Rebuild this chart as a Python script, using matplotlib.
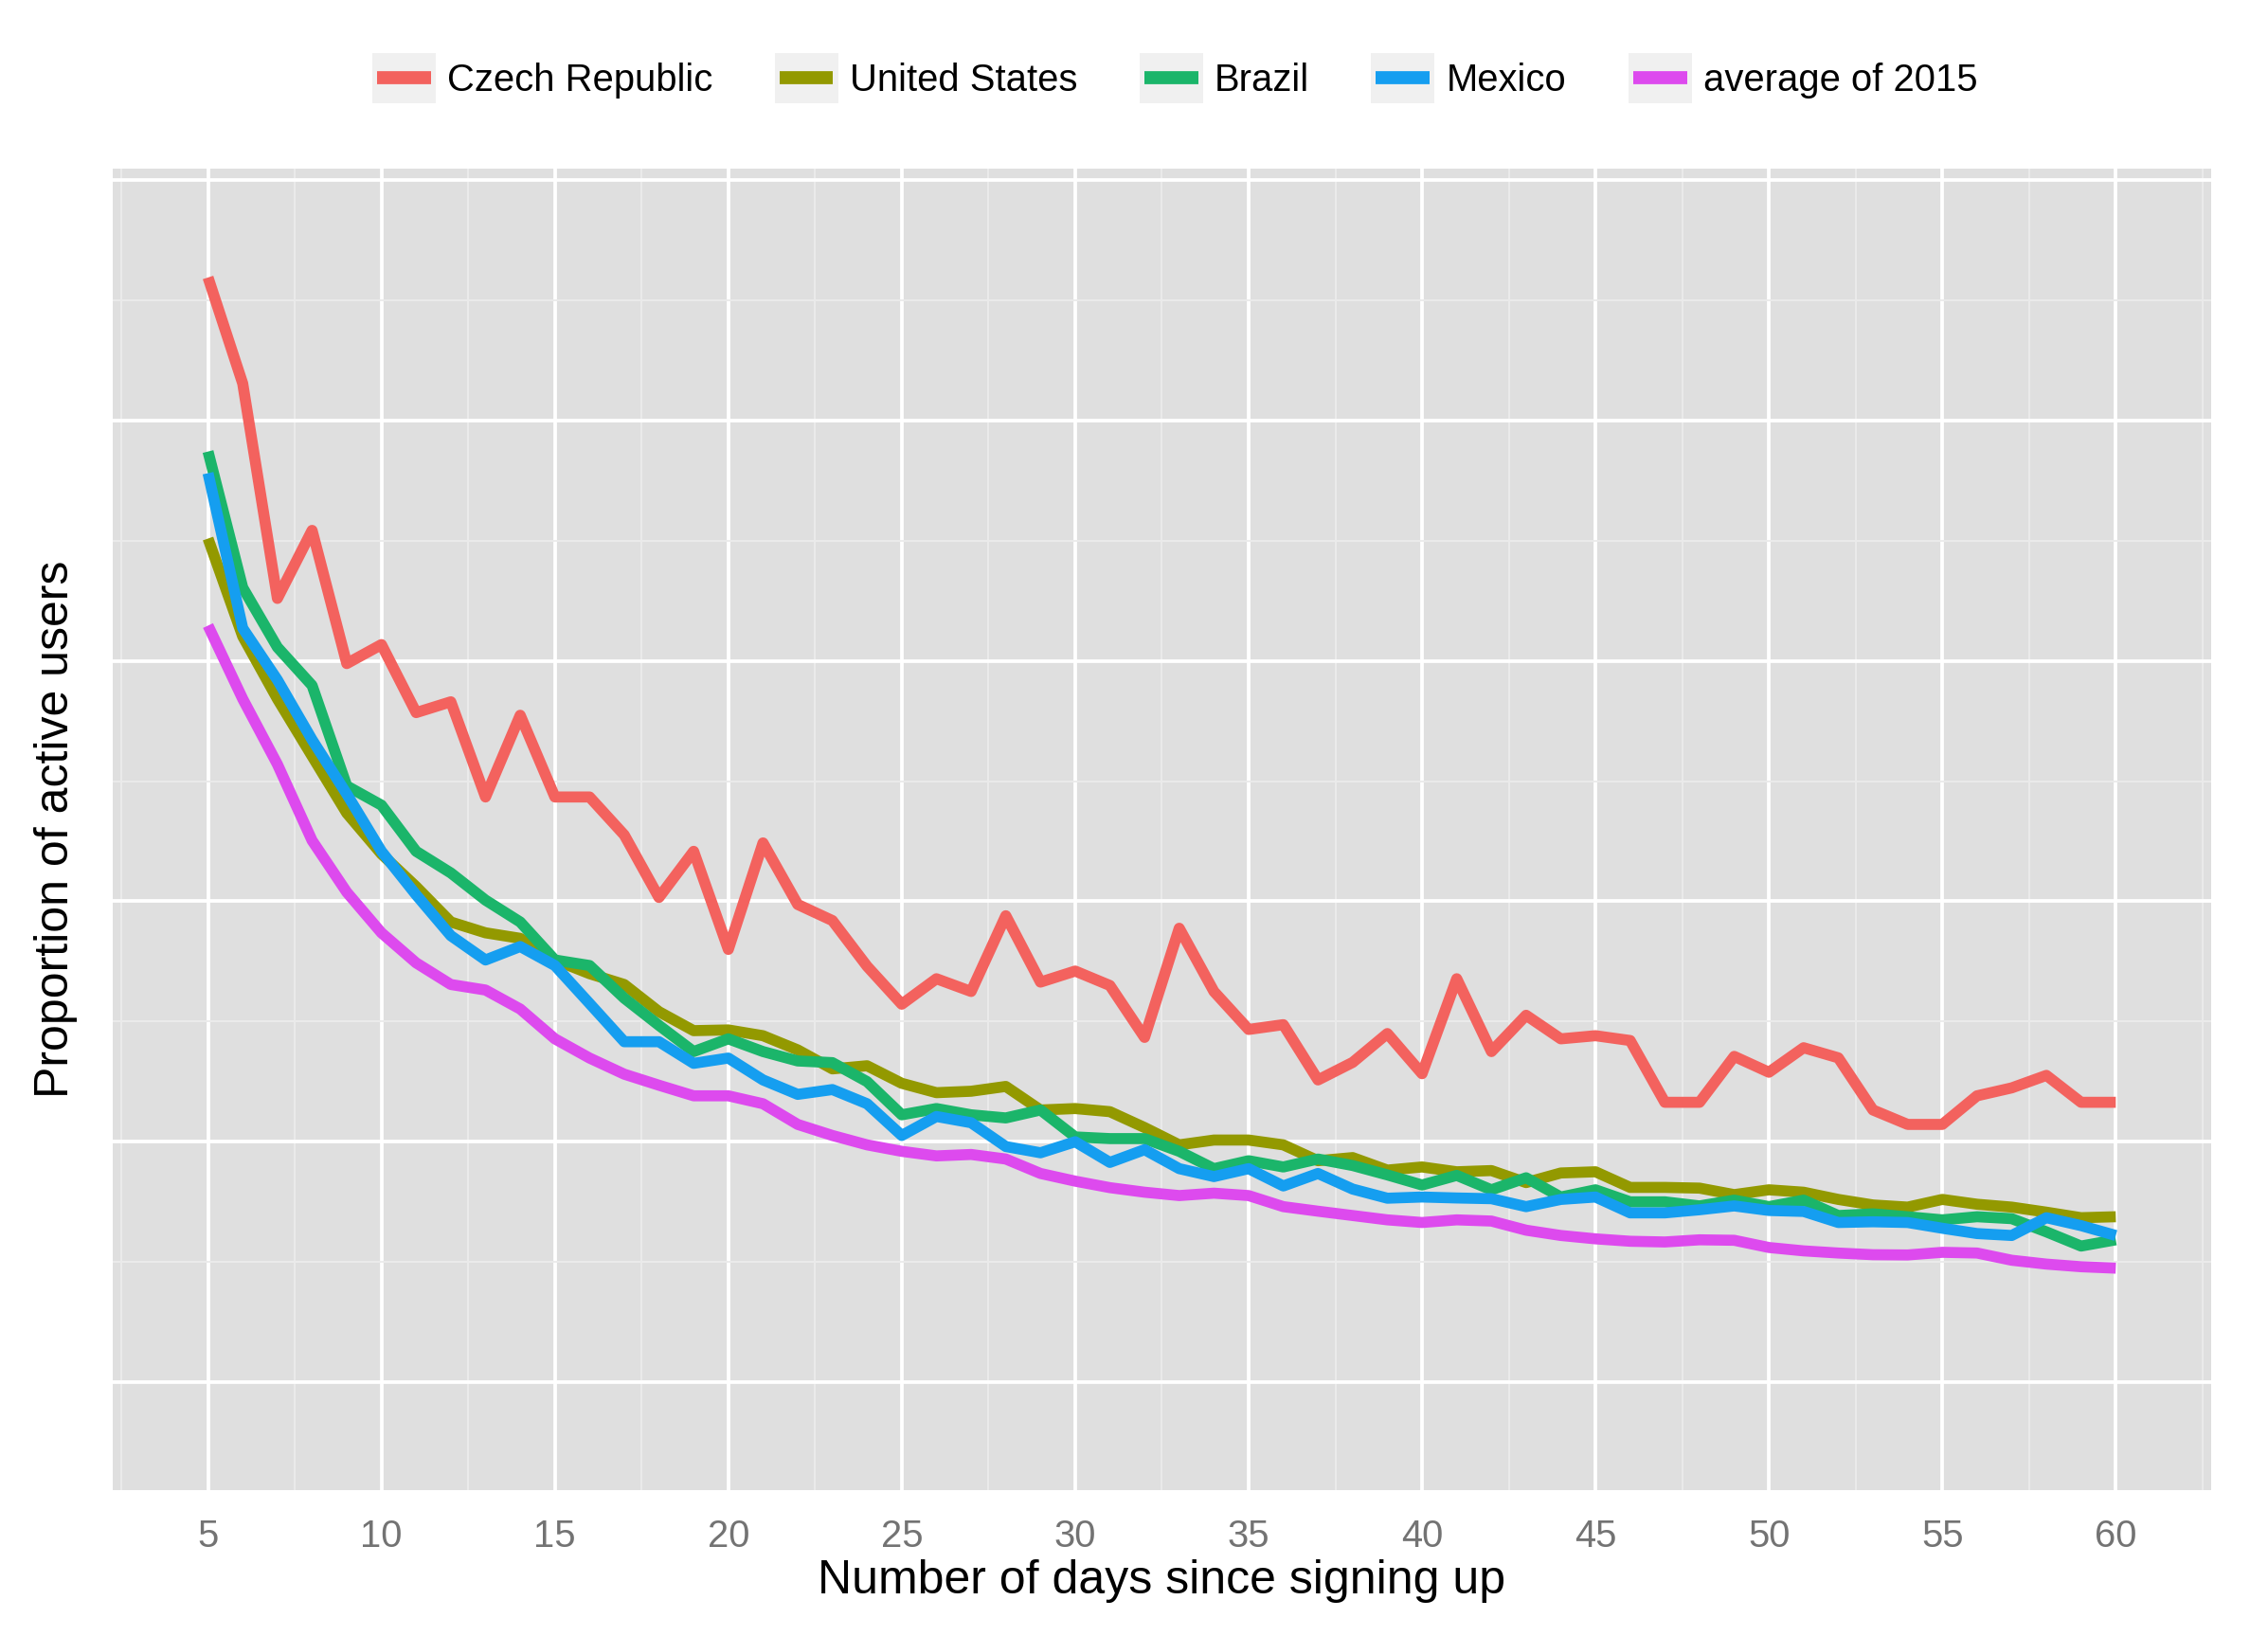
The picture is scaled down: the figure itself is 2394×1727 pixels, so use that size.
import matplotlib
matplotlib.use("Agg")
import matplotlib.pyplot as plt
from matplotlib.lines import Line2D
from matplotlib.patches import Rectangle
from matplotlib.legend_handler import HandlerBase
import numpy as np

plt.rcParams['font.family'] = ['Liberation Sans', 'DejaVu Sans']

days = list(range(5, 61))

series_names = ["Czech Republic", "United States", "Brazil", "Mexico", "average of 2015"]

czech = [0.5595, 0.5154, 0.4260, 0.4543, 0.3989, 0.4068, 0.3785, 0.3830, 0.3434, 0.3774,
         0.3434, 0.3434, 0.3276, 0.3016, 0.3208, 0.2800, 0.3243, 0.2987, 0.2920, 0.2730,
         0.2572, 0.2678, 0.2625, 0.2940, 0.2664, 0.2710, 0.2650, 0.2434, 0.2888, 0.2625,
         0.2467, 0.2487, 0.2257, 0.2330, 0.2450, 0.2283, 0.2678, 0.2375, 0.2526, 0.2428,
         0.2441, 0.2421, 0.2164, 0.2164, 0.2355, 0.2289, 0.2391, 0.2349, 0.2132, 0.2072,
         0.2072, 0.2191, 0.2224, 0.2276, 0.2164, 0.2164]

united_states = [0.4509, 0.4102, 0.3842, 0.3604, 0.3367, 0.3197, 0.3061, 0.2914, 0.2869, 0.2846,
                 0.2756, 0.2699, 0.2654, 0.2541, 0.2462, 0.2465, 0.2441, 0.2382, 0.2303, 0.2316,
                 0.2243, 0.2204, 0.2210, 0.2230, 0.2132, 0.2138, 0.2125, 0.2059, 0.1987, 0.2007,
                 0.2007, 0.1987, 0.1921, 0.1934, 0.1882, 0.1895, 0.1875, 0.1880, 0.1830, 0.1870,
                 0.1875, 0.1810, 0.1810, 0.1807, 0.1780, 0.1800, 0.1790, 0.1760, 0.1737, 0.1728,
                 0.1760, 0.1740, 0.1728, 0.1707, 0.1684, 0.1688]

brazil = [0.4871, 0.4305, 0.4057, 0.3898, 0.3480, 0.3400, 0.3208, 0.3118, 0.3005, 0.2914,
          0.2756, 0.2733, 0.2597, 0.2484, 0.2375, 0.2428, 0.2375, 0.2336, 0.2329, 0.2250,
          0.2112, 0.2138, 0.2112, 0.2099, 0.2132, 0.2020, 0.2013, 0.2013, 0.1960, 0.1888,
          0.1921, 0.1895, 0.1928, 0.1901, 0.1862, 0.1820, 0.1860, 0.1800, 0.1850, 0.1770,
          0.1800, 0.1750, 0.1750, 0.1733, 0.1757, 0.1730, 0.1757, 0.1693, 0.1700, 0.1688,
          0.1675, 0.1688, 0.1680, 0.1625, 0.1566, 0.1592]

mexico = [0.4781, 0.4136, 0.3921, 0.3672, 0.3446, 0.3208, 0.3027, 0.2857, 0.2756, 0.2812,
          0.2733, 0.2575, 0.2416, 0.2416, 0.2326, 0.2348, 0.2257, 0.2197, 0.2217, 0.2158,
          0.2026, 0.2105, 0.2079, 0.1980, 0.1954, 0.2000, 0.1914, 0.1967, 0.1888, 0.1855,
          0.1888, 0.1816, 0.1868, 0.1803, 0.1765, 0.1770, 0.1766, 0.1763, 0.1730, 0.1760,
          0.1770, 0.1704, 0.1704, 0.1717, 0.1733, 0.1714, 0.1710, 0.1664, 0.1667, 0.1664,
          0.1640, 0.1618, 0.1610, 0.1684, 0.1651, 0.1610]

average_2015 = [0.4147, 0.3842, 0.3570, 0.3253, 0.3038, 0.2869, 0.2744, 0.2654, 0.2631, 0.2552,
                0.2428, 0.2348, 0.2281, 0.2235, 0.2191, 0.2191, 0.2158, 0.2072, 0.2026, 0.1987,
                0.1960, 0.1941, 0.1947, 0.1928, 0.1868, 0.1836, 0.1809, 0.1790, 0.1776, 0.1786,
                0.1776, 0.1730, 0.1711, 0.1693, 0.1675, 0.1664, 0.1675, 0.1670, 0.1632, 0.1610,
                0.1596, 0.1586, 0.1583, 0.1592, 0.1590, 0.1560, 0.1546, 0.1537, 0.1530, 0.1529,
                0.1540, 0.1537, 0.1507, 0.1491, 0.1480, 0.1474]

series_values = [czech, united_states, brazil, mexico, average_2015]
colors = ["#F3625E", "#939900", "#1BB56A", "#159EF0", "#DD4AEE"]

x_major = list(range(5, 61, 5))
x_minor = [2.5 + 5 * i for i in range(13)]
y_major = [0.1, 0.2, 0.3, 0.4, 0.5, 0.6]
y_minor = [0.15, 0.25, 0.35, 0.45, 0.55]

W, H, DPI = 2394, 1727, 300
fig = plt.figure(figsize=(W / DPI, H / DPI), dpi=DPI, facecolor='white')
left, right, top, bottom = 118.9, 2334.0, 177.7, 1572.7
ax = fig.add_axes([left / W, 1 - bottom / H, (right - left) / W, (bottom - top) / H])
ax.set_facecolor('#DFDFDF')
for s in ax.spines.values():
    s.set_visible(False)

ax.set_xlim(2.25, 62.75)
ax.set_ylim(0.0552, 0.6049)
ax.set_xticks(x_major)
ax.set_xticks(x_minor, minor=True)
ax.set_yticks(y_major)
ax.set_yticks(y_minor, minor=True)
ax.set_yticklabels([])
ax.tick_params(axis='both', which='both', length=0)
ax.tick_params(axis='x', which='major', labelsize=9.6, labelcolor='#737373', pad=7.3)
ax.grid(which='major', color='white', linewidth=0.9)
ax.grid(which='minor', color='#EBEBEB', linewidth=0.45)
ax.set_axisbelow(True)

handles = []
for name, vals, c in zip(series_names, series_values, colors):
    ln, = ax.plot(days, vals, color=c, linewidth=2.8, label=name,
                  solid_joinstyle='round', solid_capstyle='butt')
    handles.append(ln)

ax.set_xlabel("Number of days since signing up", fontsize=12, color='black')
ax.xaxis.label.set_verticalalignment('baseline')
ax.xaxis.set_label_coords(0.5, -(1681.7 - bottom) / (bottom - top))
ax.set_ylabel("Proportion of active users", fontsize=12, color='black')
ax.yaxis.label.set_verticalalignment('baseline')
ax.yaxis.set_label_coords(-(left - 71.7) / (right - left), 0.5)


class KeyHandler(HandlerBase):
    def create_artists(self, legend, orig_handle, xdescent, ydescent, width, height, fontsize, trans):
        rect = Rectangle((-xdescent, -ydescent), width, height, facecolor='#F0F0F0',
                         edgecolor='none', transform=trans)
        inset = width * 0.075
        yc = -ydescent + height / 2
        line = Line2D([-xdescent + inset, -xdescent + width - inset], [yc, yc],
                      color=orig_handle.get_color(), linewidth=3.3,
                      solid_capstyle='butt', transform=trans)
        return [rect, line]


fig.legend(handles, series_names, loc='center', bbox_to_anchor=(1240 / W, 1 - 82.5 / H),
           ncol=5, frameon=False, fontsize=9.6, handlelength=1.675, handleheight=1.675,
           handletextpad=0.31, columnspacing=1.63, borderpad=0, borderaxespad=0,
           handler_map={Line2D: KeyHandler()})

fig.savefig("out.png", dpi=DPI, facecolor='white')
